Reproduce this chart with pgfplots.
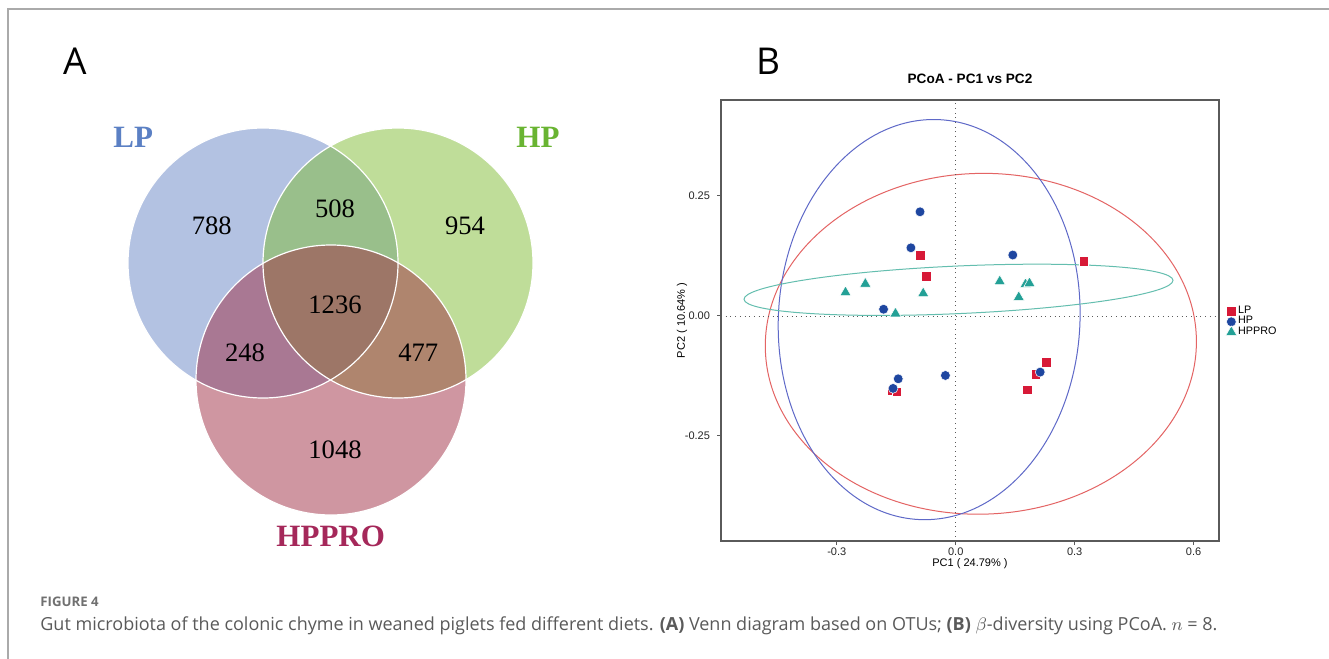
\documentclass[border=0pt]{standalone}
\usepackage{fontspec}
\setmainfont{Liberation Serif}
\setsansfont{Liberation Sans}
\newfontfamily\capfont{Open Sans}
\usepackage{pgfplots}
\pgfplotsset{compat=1.18}
\usepackage{pgfplotstable}

\definecolor{lpbase}{RGB}{105,135,199}
\definecolor{hpbase}{RGB}{129,189,53}
\definecolor{prbase}{RGB}{161,47,69}
\definecolor{lplab}{RGB}{91,128,196}
\definecolor{hplab}{RGB}{105,180,50}
\definecolor{prlab}{RGB}{165,40,90}
\definecolor{sqred}{RGB}{215,25,55}
\definecolor{cirblue}{RGB}{30,70,160}
\definecolor{tritea}{RGB}{35,160,150}
\definecolor{ellred}{RGB}{228,100,100}
\definecolor{ellblue}{RGB}{95,105,200}
\definecolor{elltea}{RGB}{100,190,175}
\definecolor{framegray}{RGB}{170,170,170}
\definecolor{capgray}{RGB}{90,90,90}
\definecolor{figgray}{RGB}{112,112,112}
\definecolor{axgray}{RGB}{90,90,90}

\pgfplotstableread{
x y
-0.090 0.126
-0.075 0.083
0.323 0.114
0.228 -0.096
0.202 -0.122
0.181 -0.154
-0.161 -0.156
-0.149 -0.158
}\lpdata
\pgfplotstableread{
x y
-0.090 0.217
-0.113 0.142
0.144 0.127
-0.182 0.014
-0.145 -0.131
-0.158 -0.151
-0.026 -0.124
0.213 -0.117
}\hpdata
\pgfplotstableread{
x y
-0.278 0.049
-0.228 0.067
-0.082 0.047
-0.152 0.005
0.111 0.072
0.176 0.066
0.186 0.068
0.159 0.039
}\prdata

\begin{document}
\begin{tikzpicture}
\useasboundingbox (0,0) rectangle (664.5pt,-329.5pt);
\fill[white] (0,0) rectangle (664.5pt,-329.5pt);
\draw[framegray, line width=0.75pt] (4pt,-329.5pt) -- (4pt,-4.5pt) -- (664.5pt,-4.5pt);

% panel labels
\node[font=\capfont\fontsize{18.5}{20}\selectfont, inner sep=0pt] at (37.5pt,-30.5pt) {A};
\node[font=\capfont\fontsize{18.5}{20}\selectfont, inner sep=0pt] at (384pt,-30.5pt) {B};

% ---------------- Venn diagram ----------------
\begin{axis}[at={(50pt,-280pt)}, anchor=south west, x=0.5pt, y=0.5pt,
  xmin=100, xmax=560, ymin=-560, ymax=-100, hide axis, clip=false]
\fill[lpbase, fill opacity=0.5] (axis cs:263,-263) circle[radius=135];
\fill[hpbase, fill opacity=0.5] (axis cs:398,-263) circle[radius=135];
\fill[prbase, fill opacity=0.5] (axis cs:331,-380) circle[radius=135];
\draw[white, line width=0.6pt] (axis cs:263,-263) circle[radius=135];
\draw[white, line width=0.6pt] (axis cs:398,-263) circle[radius=135];
\draw[white, line width=0.6pt] (axis cs:331,-380) circle[radius=135];
\addplot[draw=none, mark=none, nodes near coords, point meta=explicit symbolic,
  nodes near coords style={anchor=center, font=\rmfamily\fontsize{13.3}{15}\selectfont, text=black}]
  coordinates {
  (211.7,-226) [788]
  (335,-209) [508]
  (465,-226) [954]
  (335,-305) [1236]
  (245,-352.7) [248]
  (418.3,-352.7) [477]
  (335,-450) [1048]
  };
\node[font=\rmfamily\bfseries\fontsize{15.5}{17}\selectfont, text=lplab] at (axis cs:133.3,-137.3) {LP};
\node[font=\rmfamily\bfseries\fontsize{15.5}{17}\selectfont, text=hplab] at (axis cs:538,-137.3) {HP};
\node[font=\rmfamily\bfseries\fontsize{15.5}{17}\selectfont, text=prlab] at (axis cs:330.7,-536.7) {HPPRO};
\end{axis}

% ---------------- PCoA ----------------
\begin{axis}[at={(360.5pt,-270.5pt)}, anchor=south west,
  width=249pt, height=220.5pt, scale only axis,
  xmin=-0.592, xmax=0.664, ymin=-0.469, ymax=0.45,
  xtick={-0.3,0,0.3,0.6}, xticklabels={-0.3,0.0,0.3,0.6},
  ytick={-0.25,0,0.25}, yticklabels={-0.25,0.00,0.25},
  tick align=outside, tick pos=left, major tick length=2pt,
  axis line style={axgray, line width=0.6pt},
  every tick/.style={axgray, line width=0.5pt},
  ticklabel style={font=\sffamily\fontsize{5.5}{6}\selectfont, text=black!85},
  xticklabel style={inner sep=1.2pt},
  /pgf/number format/assume math mode=true,
  title={PCoA - PC1 vs PC2},
  title style={at={(axis description cs:0.5,1)}, anchor=base, yshift=2.5pt, font=\sffamily\bfseries\fontsize{6.8}{7.5}\selectfont, inner sep=0pt},
  xlabel={PC1 ( 24.79\% )},
  xlabel style={at={([yshift=-11.2pt]axis description cs:0.5,0)}, anchor=center, font=\sffamily\fontsize{5.5}{6}\selectfont, inner sep=0pt},
  ylabel={PC2 ( 10.64\% )},
  ylabel style={at={([xshift=-19.5pt]axis description cs:0,0.5)}, anchor=center, font=\sffamily\fontsize{5.5}{6}\selectfont, inner sep=0pt},
  legend style={at={(1,0.497)}, anchor=west, xshift=3.2pt, draw=none, fill=none,
    font=\sffamily\fontsize{5.4}{5.5}\selectfont, inner sep=0pt, row sep=-1.2pt,
    nodes={inner sep=0.6pt}},
  legend cell align=left,
  legend image code/.code={\draw[#1] plot coordinates {(0.1cm,0cm)};},
  clip=false]
% ellipses
\draw[ellred, line width=0.5pt, rotate around={1.5:(axis cs:0.0634,-0.058)}] (axis cs:0.0634,-0.058) ellipse[x radius=107.8pt, y radius=85.2pt];
\draw[ellblue, line width=0.5pt, rotate around={-3:(axis cs:-0.067,-0.0076)}] (axis cs:-0.067,-0.0076) ellipse[x radius=75.4pt, y radius=100.1pt];
\draw[elltea, line width=0.5pt, rotate around={2.54:(axis cs:0.007,0.0545)}] (axis cs:0.007,0.0545) ellipse[x radius=107.35pt, y radius=11.9pt];
% reference lines
\addplot[forget plot, dotted, axgray, line width=0.35pt] coordinates {(0,-0.469) (0,0.45)};
\addplot[forget plot, dotted, axgray, line width=0.35pt] coordinates {(-0.592,0) (0.664,0)};
% points
\addplot[only marks, mark=square*, mark size=2.4pt, mark options={fill=sqred, draw=white, line width=0.25pt}] table[x=x,y=y] {\lpdata};
\addlegendentry{LP}
\addplot[only marks, mark=*, mark size=2.45pt, mark options={fill=cirblue, draw=white, line width=0.25pt}] table[x=x,y=y] {\hpdata};
\addlegendentry{HP}
\addplot[only marks, mark=triangle*, mark size=3.2pt, mark options={fill=tritea, draw=white, line width=0.25pt}] table[x=x,y=y] {\prdata};
\addlegendentry{HPPRO}
\end{axis}

% caption
\node[anchor=base west, inner sep=0pt, font=\capfont\bfseries\fontsize{6.6}{7}\selectfont, text=figgray] at (20pt,-303pt) {FIGURE 4};
\node[anchor=base west, inner sep=0pt, text=capgray] at (20pt,-315pt) {\resizebox{588.5pt}{!}{\capfont\fontsize{9}{11}\selectfont Gut microbiota of the colonic chyme in weaned piglets fed different diets. \textbf{(A)} Venn diagram based on OTUs; \textbf{(B)} $\beta$-diversity using PCoA. $n$ = 8.}};
\end{tikzpicture}
\end{document}
